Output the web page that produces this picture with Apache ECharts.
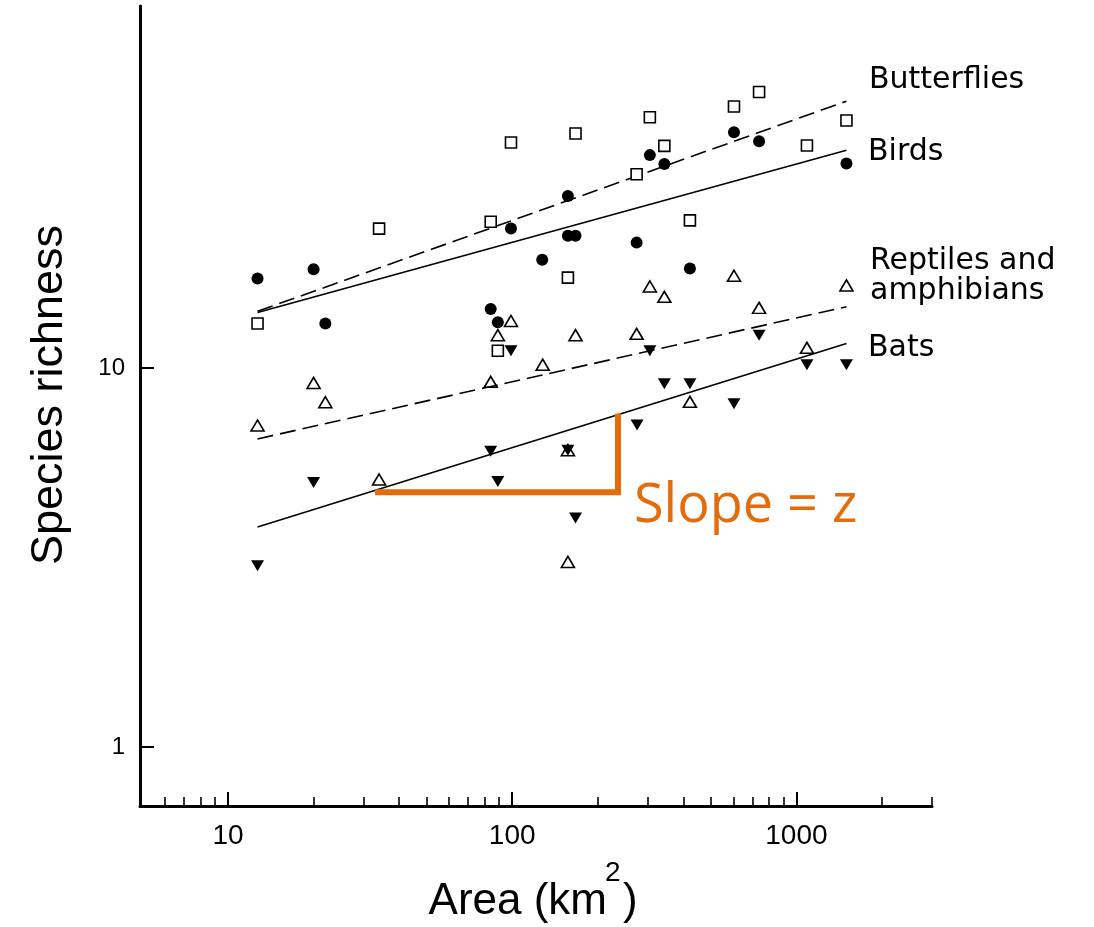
<!DOCTYPE html>
<html>
<head>
<meta charset="utf-8">
<script src="https://cdn.jsdelivr.net/npm/echarts@6/dist/echarts.min.js"></script>
<style>
html,body{margin:0;padding:0;background:#ffffff;}
#chart{width:1094px;height:927px;}
</style>
</head>
<body>
<div id="chart"></div>
<script>
// ---- axis ticks ----
const xTickValues = [10, 100, 1000];
const xMinorTickValues = [6, 7, 8, 9, 20, 30, 40, 50, 60, 70, 80, 90, 200, 300, 400, 500, 600, 700, 800, 900, 2000, 3000];
const yTickValues = [1, 10];

// ---- data: [area km2, species richness] ----
const butterfliesData = [
  [12.7, 13.1], [34, 23.3], [84, 24.3], [89, 11.1], [99, 39.3], [157, 17.3], [167, 41.5],
  [274, 32.4], [305, 45.8], [343, 38.5], [422, 24.5], [603, 48.9], [739, 53.4], [1089, 38.6], [1500, 44.9]
];
const birdsData = [
  [12.7, 17.2], [20, 18.2], [22, 13.1], [84, 14.3], [89, 13.2], [99, 23.3], [127.5, 19.3],
  [157, 28.4], [157, 22.3], [167, 22.3], [274, 21.4], [305, 36.4], [343, 34.5], [422, 18.3],
  [603, 41.8], [739, 39.6], [1500, 34.6]
];
const reptilesData = [
  [12.7, 7.05], [20, 9.13], [22, 8.12], [34, 5.08], [84, 9.19], [89, 12.2], [99, 13.3], [128, 10.2],
  [157, 6.07], [157, 3.08], [167, 12.2], [274, 12.3], [305, 16.4], [343, 15.4], [422, 8.14],
  [603, 17.5], [739, 14.4], [1089, 11.3], [1500, 16.5]
];
const batsData = [
  [12.7, 3.01], [20, 4.99], [84, 6.03], [89, 5.02], [99, 11.1], [157, 6.07], [167, 4.02],
  [275, 7.07], [305, 11.1], [343, 9.09], [422, 9.09], [603, 8.05], [739, 12.2], [1089, 10.2], [1500, 10.2]
];

// ---- fitted lines (end points) ----
const butterfliesFit = [[12.7, 14.1], [1500, 50.5]];
const birdsFit = [[12.7, 14.0], [1500, 37.5]];
const reptilesFit = [[12.7, 6.5], [1500, 14.5]];
const batsFit = [[12.7, 3.81], [1500, 11.6]];

// ---- slope annotation ----
const slopeMarker = [[32.9, 4.70], [235.6, 4.70], [235.6, 7.58]];

// ---- texts ----
const groupLabels = ['Butterflies', 'Birds', 'Reptiles and', 'amphibians', 'Bats'];
const xTitleParts = ['Area (km', '2', ')'];
const yTitle = 'Species richness';
const slopeText = 'Slope = z';

const ORANGE = '#E46C0A';
const chart = echarts.init(document.getElementById('chart'), null, {renderer: 'canvas'});

const labelFont = {fontFamily: 'DejaVu Sans', fontSize: 30, fill: '#000'};

const option = {
  animation: false,
  backgroundColor: '#ffffff',
  grid: {left: 140, right: 162, top: 6, bottom: 121, containLabel: false, outerBoundsMode: 'none'},
  xAxis: [
    {
      type: 'log', logBase: 10, min: 4.9, max: 3000, position: 'bottom',
      axisLine: {show: true, onZero: false, lineStyle: {color: '#000', width: 3}},
      axisTick: {show: true, inside: true, length: 14, customValues: xTickValues, lineStyle: {color: '#000', width: 2}},
      minorTick: {show: false},
      axisLabel: {
        show: true, customValues: xTickValues, margin: 16, color: '#000',
        fontFamily: 'Liberation Sans', fontSize: 28,
        formatter: v => String(+Number(v).toPrecision(6))
      },
      splitLine: {show: false}
    },
    {
      type: 'log', logBase: 10, min: 4.9, max: 3000, position: 'bottom',
      axisLine: {show: false, onZero: false},
      axisTick: {show: true, inside: true, length: 9, customValues: xMinorTickValues, lineStyle: {color: '#000', width: 1.6}},
      axisLabel: {show: false},
      splitLine: {show: false}
    }
  ],
  yAxis: {
    type: 'log', logBase: 10, min: 0.7, max: 90,
    axisLine: {show: true, onZero: false, lineStyle: {color: '#000', width: 3}},
    axisTick: {show: true, inside: true, length: 14, customValues: yTickValues, lineStyle: {color: '#000', width: 2}},
    axisLabel: {
      show: true, customValues: yTickValues, margin: 15, color: '#000',
      fontFamily: 'Liberation Sans', fontSize: 24,
      formatter: v => String(+Number(v).toPrecision(6))
    },
    splitLine: {show: false}
  },
  series: [
    {type: 'line', data: butterfliesFit, symbol: 'none', silent: true, z: 1,
      lineStyle: {color: '#000', width: 1.6, type: [16, 7]}},
    {type: 'line', data: birdsFit, symbol: 'none', silent: true, z: 1,
      lineStyle: {color: '#000', width: 1.6, type: 'solid'}},
    {type: 'line', data: reptilesFit, symbol: 'none', silent: true, z: 1,
      lineStyle: {color: '#000', width: 1.6, type: [16, 7]}},
    {type: 'line', data: batsFit, symbol: 'none', silent: true, z: 1,
      lineStyle: {color: '#000', width: 1.6, type: 'solid'}},
    {name: 'Butterflies', type: 'scatter', data: butterfliesData, symbol: 'rect', symbolSize: 11, z: 3,
      itemStyle: {color: '#fff', borderColor: '#000', borderWidth: 1.6, opacity: 1}},
    {name: 'Birds', type: 'scatter', data: birdsData, symbol: 'circle', symbolSize: 12, z: 3,
      itemStyle: {color: '#000', opacity: 1}},
    {name: 'Reptiles and amphibians', type: 'scatter', data: reptilesData, symbol: 'triangle', symbolSize: [13, 11], z: 3,
      itemStyle: {color: 'rgba(255,255,255,0)', borderColor: '#000', borderWidth: 1.6, opacity: 1}},
    {name: 'Bats', type: 'scatter', data: batsData, symbol: 'triangle', symbolRotate: 180, symbolSize: [13, 11], z: 3,
      itemStyle: {color: '#000', opacity: 1}},
    {type: 'line', data: slopeMarker, symbol: 'none', silent: true, z: 4,
      lineStyle: {color: ORANGE, width: 6, join: 'miter', cap: 'butt'}}
  ],
  graphic: [
    {type: 'text', x: 869, y: 80, style: Object.assign({text: groupLabels[0], align: 'left', verticalAlign: 'middle'}, labelFont)},
    {type: 'text', x: 868, y: 152, style: Object.assign({text: groupLabels[1], align: 'left', verticalAlign: 'middle'}, labelFont)},
    {type: 'text', x: 870, y: 261, style: Object.assign({text: groupLabels[2], align: 'left', verticalAlign: 'middle'}, labelFont)},
    {type: 'text', x: 870, y: 291, style: Object.assign({text: groupLabels[3], align: 'left', verticalAlign: 'middle'}, labelFont)},
    {type: 'text', x: 868, y: 348, style: Object.assign({text: groupLabels[4], align: 'left', verticalAlign: 'middle'}, labelFont)},
    {type: 'text', x: 634, y: 507, style: {text: slopeText, fontFamily: 'Open Sans', fontSize: 54, fill: ORANGE, align: 'left', verticalAlign: 'middle'}},
    {type: 'text', x: 49.5, y: 395, rotation: Math.PI / 2,
      style: {text: yTitle, fontFamily: 'Liberation Sans', fontSize: 45, fill: '#000', align: 'center', verticalAlign: 'middle'}},
    {type: 'text', x: 607, y: 902,
      style: {text: xTitleParts[0], fontFamily: 'Liberation Sans', fontSize: 44, fill: '#000', align: 'right', verticalAlign: 'middle'}},
    {type: 'text', x: 605, y: 873,
      style: {text: xTitleParts[1], fontFamily: 'Liberation Sans', fontSize: 28, fill: '#000', align: 'left', verticalAlign: 'middle'}},
    {type: 'text', x: 623, y: 902,
      style: {text: xTitleParts[2], fontFamily: 'Liberation Sans', fontSize: 44, fill: '#000', align: 'left', verticalAlign: 'middle'}}
  ]
};
chart.setOption(option);
</script>
</body>
</html>
